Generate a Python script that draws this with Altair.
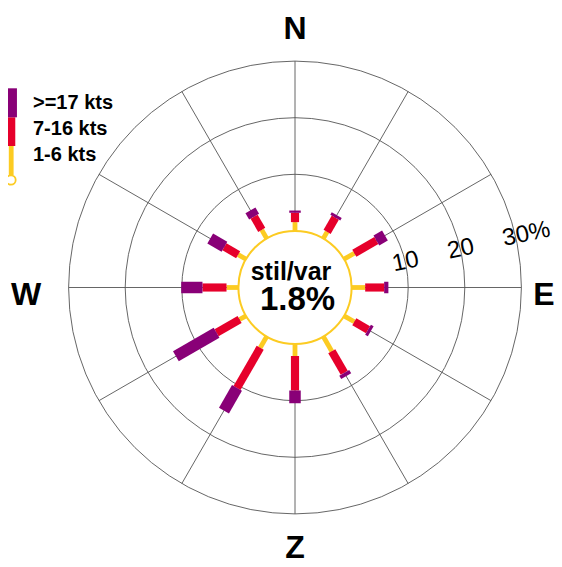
import math
import altair as alt
import pandas as pd

# ---------------- data ----------------
DIRECTIONS = [0, 30, 60, 90, 120, 150, 180, 210, 240, 270, 300, 330]
LIGHT = [1.55, 1.35, 2.1, 2.4, 2.1, 3.0, 2.1, 2.3, 1.3, 2.1, 1.6, 1.75]      # 1-6 kts (%)
MODERATE = [1.65, 2.9, 4.5, 3.35, 2.8, 4.4, 6.1, 8.2, 4.7, 4.25, 2.8, 2.7]   # 7-16 kts (%)
STRONG = [0.4, 0.5, 1.75, 0.75, 0.55, 0.7, 2.25, 4.6, 8.3, 3.75, 2.9, 1.3]   # >=17 kts (%)
CALM = 1.8
CLASSES = ["1-6 kts", "7-16 kts", ">=17 kts"]
RINGS = [10, 20, 30]
RING_LABELS = ["10", "20", "30%"]
COMPASS = ["N", "E", "Z", "W"]
COMPASS_DIR = [0, 90, 180, 270]

# ---------------- layout / style ----------------
PUR, RED, YEL = "#890077", "#E6002B", "#FCCB22"
GRID = "#555555"
FONT = "Liberation Sans"
K = 5.66                 # pixels per percent unit
HOLE = 10                # radius of the calm circle, in percent units
W, H = 546, 551          # plot area (page minus 8px margins on every side)
CX, CY = 287, 279.5      # centre of the rose inside the plot area
RMAX = HOLE + max(RINGS)

xs = alt.Scale(domain=[-CX / K, (W - CX) / K], nice=False, zero=False)
ys = alt.Scale(domain=[-(H - CY) / K, CY / K], nice=False, zero=False)
rs = alt.Scale(type="linear", domain=[0, RMAX], range=[0, RMAX * K], zero=True)


def pol(r, deg):
    t = math.radians(deg)
    return r * math.sin(t), r * math.cos(t)


def page(px, py):
    """page pixel -> data units (for the hand-drawn legend layout)."""
    return (px - 8 - CX) / K, (CY - (py - 8)) / K


# segments of each wind bar
seg_rows = []
for d, a, b, c in zip(DIRECTIONS, LIGHT, MODERATE, STRONG):
    r = HOLE
    for cls, v in zip(CLASSES, [a, b, c]):
        x0, y0 = pol(r, d)
        x1, y1 = pol(r + v, d)
        seg_rows.append(dict(dir=d, cls=cls, pct=v, x=x0, y=y0, x2=x1, y2=y1))
        r += v
seg = pd.DataFrame(seg_rows)

spokes = pd.DataFrame(
    [dict(dir=d, x=pol(HOLE, d)[0], y=pol(HOLE, d)[1],
          x2=pol(RMAX, d)[0], y2=pol(RMAX, d)[1]) for d in DIRECTIONS]
)
rings = pd.DataFrame({"ring": RINGS, "r": [HOLE + v for v in RINGS]})
calm = pd.DataFrame({"r": [HOLE]})

LABEL_DIR = 77
ring_lab = pd.DataFrame(
    [dict(text=t, x=pol(HOLE + v, LABEL_DIR)[0], y=pol(HOLE + v, LABEL_DIR)[1])
     for t, v in zip(RING_LABELS, RINGS)]
)

LABEL_R = 264 / K
# small per-letter nudges (E and Z kept inside the page edge)
comp_offsets = {"N": (0, 5), "Z": (0, -3.5), "W": (-5, 7.7), "E": (-15, 7.7)}

cls_color = alt.Scale(domain=CLASSES, range=[YEL, RED, PUR])
cls_width = alt.Scale(domain=CLASSES, range=[4.8, 11.5, 17.5])

X = lambda f: alt.X(f, scale=xs, axis=None)
Y = lambda f: alt.Y(f, scale=ys, axis=None)

ring_layer = alt.Chart(rings).mark_arc(
    theta=0, theta2=2 * math.pi, fill="white", fillOpacity=0, stroke=GRID, strokeWidth=0.9
).encode(x=alt.datum(0, scale=xs, axis=None), y=alt.datum(0, scale=ys, axis=None),
         radius=alt.Radius("r:Q", scale=rs, stack=False))

spoke_layer = alt.Chart(spokes).mark_rule(color=GRID, strokeWidth=0.9).encode(
    x=X("x:Q"), y=Y("y:Q"), x2="x2:Q", y2="y2:Q")

calm_layer = alt.Chart(calm).mark_arc(
    theta=0, theta2=2 * math.pi, fill="white", stroke=YEL, strokeWidth=2
).encode(x=alt.datum(0, scale=xs, axis=None), y=alt.datum(0, scale=ys, axis=None),
         radius=alt.Radius("r:Q", scale=rs, stack=False))

bar_layer = alt.Chart(seg).mark_rule(strokeCap="butt").encode(
    x=X("x:Q"), y=Y("y:Q"), x2="x2:Q", y2="y2:Q",
    color=alt.Color("cls:N", scale=cls_color, legend=None),
    strokeWidth=alt.StrokeWidth("cls:O", scale=cls_width, legend=None),
)

ring_text = alt.Chart(ring_lab).mark_text(
    align="left", baseline="middle", angle=348, dx=-13, fontSize=24, font=FONT, color="black"
).encode(x=X("x:Q"), y=Y("y:Q"), text="text:N")

center1 = alt.Chart(pd.DataFrame({"t": ["stil/var"]})).mark_text(
    align="center", baseline="alphabetic", dx=-4, dy=-7.5, fontSize=25,
    fontWeight="bold", font=FONT, color="black"
).encode(x=alt.datum(0, scale=xs, axis=None), y=alt.datum(0, scale=ys, axis=None), text="t:N")

center2 = alt.Chart(pd.DataFrame({"t": [f"{CALM}%"]})).mark_text(
    align="center", baseline="alphabetic", dx=2.5, dy=22.5, fontSize=33,
    fontWeight="bold", font=FONT, color="black"
).encode(x=alt.datum(0, scale=xs, axis=None), y=alt.datum(0, scale=ys, axis=None), text="t:N")

compass_layers = []
for lab, d in zip(COMPASS, COMPASS_DIR):
    px, py = pol(LABEL_R, d)
    ox, oy = comp_offsets[lab]
    compass_layers.append(
        alt.Chart(pd.DataFrame({"t": [lab], "x": [px], "y": [py]})).mark_text(
            align="center", baseline="middle", dx=ox, dy=oy, fontSize=32,
            fontWeight="bold", font=FONT, color="black"
        ).encode(x=X("x:Q"), y=Y("y:Q"), text="t:N")
    )

# ---------------- legend (drawn as a small vertical bar) ----------------
LEG_X = 11.2
leg_spans = {">=17 kts": (88.3, 117.3), "7-16 kts": (117.3, 146.0), "1-6 kts": (146.0, 175.0)}
leg_rows = []
for cls in CLASSES:
    y0p, y1p = leg_spans[cls]
    x0, y0 = page(LEG_X, y0p)
    _, y1 = page(LEG_X, y1p)
    leg_rows.append(dict(cls=cls, x=x0, y=y0, x2=x0, y2=y1))
leg_df = pd.DataFrame(leg_rows)
leg_bar = alt.Chart(leg_df).mark_rule(strokeCap="butt").encode(
    x=X("x:Q"), y=Y("y:Q"), x2="x2:Q", y2="y2:Q",
    color=alt.Color("cls:N", scale=cls_color, legend=None),
    strokeWidth=alt.StrokeWidth("cls:O", scale=cls_width, legend=None),
)
cxl, cyl = page(11.0, 180.0)
leg_dot = alt.Chart(pd.DataFrame({"x": [cxl], "y": [cyl]})).mark_point(
    shape="circle", size=88, filled=True, fill="white", stroke=YEL, strokeWidth=1.8, opacity=1
).encode(x=X("x:Q"), y=Y("y:Q"))

leg_text_rows = []
for i, cls in enumerate(reversed(CLASSES)):
    tx, ty = page(33.0, 102.8 + i * 26.25)
    leg_text_rows.append(dict(t=cls, x=tx, y=ty))
leg_text = alt.Chart(pd.DataFrame(leg_text_rows)).mark_text(
    align="left", baseline="middle", fontSize=20, fontWeight="bold", font=FONT, color="black"
).encode(x=X("x:Q"), y=Y("y:Q"), text="t:N")

chart = alt.layer(
    ring_layer, spoke_layer, calm_layer, bar_layer, ring_text, center1, center2,
    *compass_layers, leg_bar, leg_dot, leg_text
).properties(
    width=W, height=H, padding=0, autosize=alt.AutoSizeParams(type="none"),
    background="white"
).configure_view(stroke=None)

chart.save("out.html", embed_options={"renderer": "svg", "actions": False})
